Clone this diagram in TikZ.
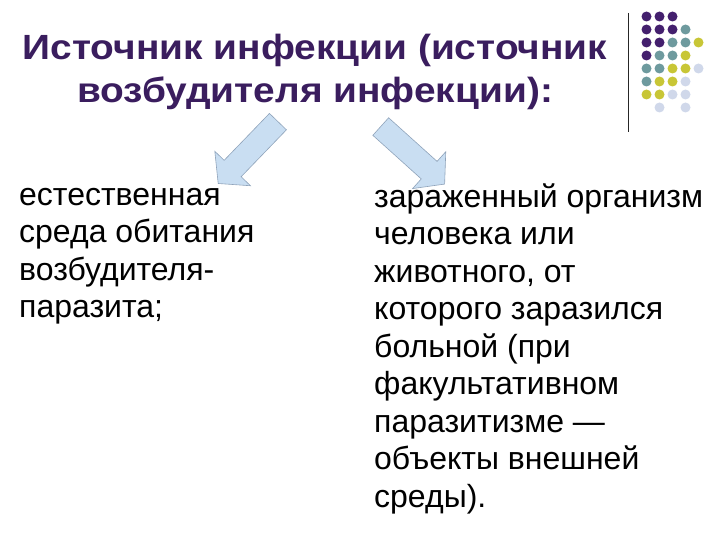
\documentclass[tikz,border=0pt]{standalone}
\usepackage{fontspec}
\setmainfont{Liberation Sans}
\newfontfamily\headfont[FakeStretch=1.11]{Liberation Sans}
\usetikzlibrary{shapes.arrows}

\definecolor{titlepurple}{HTML}{3A1D5E}
\definecolor{dotpurple}{HTML}{44206E}
\definecolor{dotteal}{HTML}{6E9A9E}
\definecolor{dotyellow}{HTML}{C8C636}
\definecolor{dotlight}{HTML}{D0D8EA}
\definecolor{arrowfill}{HTML}{C9DEF2}
\definecolor{arrowline}{HTML}{8FA3BA}

\tikzset{
    heading/.style={font=\headfont\fontsize{35}{43}\selectfont\bfseries, text=titlepurple,
                    align=center, inner sep=0pt},
    bodytext/.style={font=\fontsize{32}{37.5}\selectfont, align=left,
                     inner sep=0pt, anchor=base west},
    blockarrow/.style={single arrow, draw=arrowline, fill=arrowfill, line width=0.6pt,
                       minimum height=86pt, inner xsep=0pt, inner ysep=11.5pt,
                       single arrow head extend=13pt, single arrow tip angle=100},
    dp/.style={fill=dotpurple},
    dt/.style={fill=dotteal},
    dy/.style={fill=dotyellow},
    dl/.style={fill=dotlight},
}

\begin{document}
\begin{tikzpicture}[x=1pt, y=-1pt]
    \useasboundingbox (0,0) rectangle (720,540);

    % title (base = baseline of its last line)
    \node[heading, anchor=base] (title) at (315, 102.5)
        {Источник инфекции (источник\\возбудителя инфекции):};

    % two branches
    \node[bodytext] (left) at (19, 317.5)
        {естественная\\среда обитания\\возбудителя-\\паразита;};
    \node[bodytext] (right) at (374, 507)
        {зараженный организм\\человека или\\животного, от\\которого заразился\\больной (при\\факультативном\\паразитизме —\\объекты внешней\\среды).};

    % block arrows
    \node[blockarrow, rotate=226] (arrowl) at (251.5, 149) {};
    \node[blockarrow, rotate=-42] (arrowr) at (409, 152) {};

    % corner decoration
    \coordinate (bartop) at (628, 13);
    \coordinate (barbot) at (628, 132);
    \draw[line width=1pt, black!85] (bartop) -- (barbot);

    \fill[dp] (646.5, 16.5) circle (5); \fill[dp] (659.5, 16.5) circle (5); \fill[dp] (672.5, 16.5) circle (5);
    \fill[dp] (646.5, 29.5) circle (5); \fill[dp] (659.5, 29.5) circle (5); \fill[dp] (672.5, 29.5) circle (5);
    \fill[dt] (685.5, 29.5) circle (5);
    \fill[dp] (646.5, 42.5) circle (5); \fill[dp] (659.5, 42.5) circle (5); \fill[dt] (672.5, 42.5) circle (5);
    \fill[dt] (685.5, 42.5) circle (5); \fill[dy] (698.5, 42.5) circle (5);
    \fill[dp] (646.5, 55.5) circle (5); \fill[dt] (659.5, 55.5) circle (5); \fill[dt] (672.5, 55.5) circle (5);
    \fill[dy] (685.5, 55.5) circle (5);
    \fill[dt] (646.5, 68.5) circle (5); \fill[dt] (659.5, 68.5) circle (5); \fill[dy] (672.5, 68.5) circle (5);
    \fill[dy] (685.5, 68.5) circle (5); \fill[dl] (698.5, 68.5) circle (5);
    \fill[dt] (646.5, 81.5) circle (5); \fill[dy] (659.5, 81.5) circle (5); \fill[dy] (672.5, 81.5) circle (5);
    \fill[dl] (685.5, 81.5) circle (5);
    \fill[dy] (646.5, 94.5) circle (5); \fill[dy] (659.5, 94.5) circle (5); \fill[dl] (672.5, 94.5) circle (5);
    \fill[dl] (685.5, 94.5) circle (5);
    \fill[dl] (659.5, 107.5) circle (5); \fill[dl] (685.5, 107.5) circle (5);
\end{tikzpicture}
\end{document}
